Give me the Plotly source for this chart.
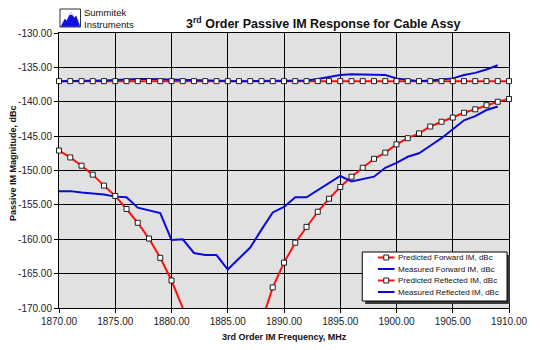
import plotly.graph_objects as go

# ---------------- data ----------------
freq_pred = [1870, 1871, 1872, 1873, 1874, 1875, 1876, 1877, 1878, 1879,
             1880, 1881, 1882, 1883, 1884, 1885, 1886, 1887, 1888, 1889,
             1890, 1891, 1892, 1893, 1894, 1895, 1896, 1897, 1898, 1899,
             1900, 1901, 1902, 1903, 1904, 1905, 1906, 1907, 1908, 1909, 1910]

pred_forward = [-137.0, -137.0, -137.0, -137.0, -137.0, -137.0, -137.0, -137.0, -137.0, -137.0,
                -137.0, -137.0, -137.0, -137.0, -137.0, -137.0, -137.0, -137.0, -137.0, -137.0,
                -137.0, -137.0, -137.0, -137.0, -137.0, -137.0, -137.0, -137.0, -137.0, -137.0,
                -137.0, -137.0, -137.0, -137.0, -137.0, -137.0, -137.0, -137.0, -137.0, -137.0, -137.0]

pred_reflected = [-147.1, -148.1, -149.3, -150.6, -152.2, -153.7, -155.6, -157.6, -159.9, -162.7,
                  -166.0, -170.2, -174.5, -178.5, -182.0, -184.0, -181.5, -177.5, -172.0, -167.0,
                  -163.4, -160.5, -158.2, -156.0, -154.1, -152.4, -150.9, -149.6, -148.3, -147.4,
                  -146.2, -145.3, -144.6, -143.6, -142.9, -142.3, -141.6, -141.1, -140.5, -140.0, -139.6]

freq_meas = [1870, 1871, 1872, 1873, 1874, 1875, 1876, 1877, 1878, 1879,
             1880, 1881, 1882, 1883, 1884, 1885, 1886, 1887, 1888, 1889,
             1890, 1891, 1892, 1893, 1894, 1895, 1896, 1897, 1898, 1899,
             1900, 1901, 1902, 1903, 1904, 1905, 1906, 1907, 1908, 1909]

meas_forward = [-137.0, -137.0, -137.0, -136.95, -136.9, -136.85, -136.75, -136.7, -136.7, -136.75,
                -136.8, -136.8, -136.85, -136.9, -137.0, -137.0, -137.0, -137.0, -137.0, -137.0,
                -137.0, -137.0, -136.9, -136.7, -136.4, -136.1, -136.0, -136.0, -136.0, -136.1,
                -136.6, -136.8, -137.0, -136.9, -136.8, -136.6, -136.1, -135.8, -135.3, -134.7]

meas_reflected = [-153.0, -153.0, -153.2, -153.3, -153.5, -153.8, -153.9, -155.4, -155.8, -156.2,
                  -160.1, -160.0, -162.0, -162.3, -162.3, -164.4, -162.8, -161.2, -158.6, -156.1,
                  -155.3, -153.9, -153.9, -152.9, -151.8, -150.8, -151.6, -151.3, -150.9, -149.6,
                  -148.9, -148.0, -147.5, -146.4, -145.3, -144.0, -142.7, -142.1, -141.2, -140.7]

x_ticks = [1870, 1875, 1880, 1885, 1890, 1895, 1900, 1905, 1910]
x_ticklabels = ["1870.00", "1875.00", "1880.00", "1885.00", "1890.00",
                "1895.00", "1900.00", "1905.00", "1910.00"]
y_ticks = [-170, -165, -160, -155, -150, -145, -140, -135, -130]
y_ticklabels = ["-170.00", "-165.00", "-160.00", "-155.00", "-150.00",
                "-145.00", "-140.00", "-135.00", "-130.00"]

series_names = ["Predicted Forward IM, dBc", "Measured Forward IM, dBc",
                "Predicted Reflected IM, dBc", "Measured Reflected IM, dBc"]

title_text = "3<sup>rd</sup> Order Passive IM Response for Cable Assy"
x_title = "3rd Order IM Frequency, MHz"
y_title = "Passive IM Magnitude, dBc"
logo_lines = ["Summitek", "Instruments"]

# ---------------- style ----------------
RED = "#ff1010"
BLUE = "#0a0ad8"
FONT = "Arial, Liberation Sans, sans-serif"
W, H = 540, 350
L, R, T, B = 59, 21, 33, 42
PW, PH = W - L - R, H - T - B


def px(x):
    return (x - L) / PW


def py(y):
    return (H - B - y) / PH


fig = go.Figure()

# lines
fig.add_trace(go.Scatter(x=freq_pred, y=pred_forward, mode="lines",
                         line=dict(color=RED, width=2), showlegend=False))
fig.add_trace(go.Scatter(x=freq_pred, y=pred_reflected, mode="lines",
                         line=dict(color=RED, width=2), showlegend=False))
fig.add_trace(go.Scatter(x=freq_meas, y=meas_forward, mode="lines",
                         line=dict(color=BLUE, width=2), showlegend=False))
fig.add_trace(go.Scatter(x=freq_meas, y=meas_reflected, mode="lines",
                         line=dict(color=BLUE, width=2), showlegend=False))

# markers (only those inside the visible range)
ymin = y_ticks[0] - 0.5
for ys in (pred_forward, pred_reflected):
    vis = [v if v >= ymin else None for v in ys]
    fig.add_trace(go.Scatter(x=freq_pred, y=vis, mode="markers",
                             marker=dict(symbol="square", size=5, color="white",
                                         line=dict(color="#202020", width=1)),
                             cliponaxis=False, showlegend=False))

axis_common = dict(showgrid=True, gridcolor="#000000", gridwidth=1,
                   showline=True, linecolor="#000000", linewidth=1, mirror=True,
                   ticks="outside", ticklen=4, tickcolor="#000000",
                   tickfont=dict(family=FONT, size=10, color="#222222"),
                   zeroline=False, layer="below traces")

fig.update_layout(
    width=W, height=H,
    margin=dict(l=L, r=R, t=T, b=B, pad=0),
    paper_bgcolor="white", plot_bgcolor="#e1e1e1",
    showlegend=False,
    xaxis=dict(range=[1870, 1910], tickvals=x_ticks, ticktext=x_ticklabels, **axis_common),
    yaxis=dict(range=[-170, -130], tickvals=y_ticks, ticktext=y_ticklabels, **axis_common),
)

ann = []
ann.append(dict(text="<b>" + title_text + "</b>", x=px(329), y=py(23), xref="paper", yref="paper",
                showarrow=False, xanchor="center", yanchor="middle",
                font=dict(family=FONT, size=12.5, color="#111111")))
ann.append(dict(text="<b>" + x_title + "</b>", x=px(289), y=py(337), xref="paper", yref="paper",
                showarrow=False, xanchor="center", yanchor="middle",
                font=dict(family=FONT, size=9, color="#111111")))
ann.append(dict(text="<b>" + y_title + "</b>", x=px(12), y=py(163), xref="paper", yref="paper",
                showarrow=False, xanchor="center", yanchor="middle", textangle=-90,
                font=dict(family=FONT, size=9, color="#111111")))
# logo text (one two-line annotation)
ann.append(dict(text="<br>".join(logo_lines), x=px(82), y=py(18), xref="paper", yref="paper",
                showarrow=False, xanchor="left", yanchor="middle", align="left",
                font=dict(family=FONT, size=9.5, color="#111111")))

shapes = []
# logo icon
shapes.append(dict(type="rect", xref="paper", yref="paper", x0=px(60), x1=px(81), y0=py(27), y1=py(9),
                   fillcolor="white", line=dict(color="#303030", width=1)))
mountain = [(61, 26.5), (65, 19), (67, 21), (71, 12), (74.5, 18), (76.5, 16), (80.5, 26.5)]
path = "M " + " L ".join(f"{px(a):.5f},{py(b):.5f}" for a, b in mountain) + " Z"
shapes.append(dict(type="path", xref="paper", yref="paper", path=path,
                   fillcolor="#1010e0", line=dict(color="#1010e0", width=0.5)))
snow = [(69.5, 15), (71, 12), (72.8, 15.2), (71.2, 14.2)]
path2 = "M " + " L ".join(f"{px(a):.5f},{py(b):.5f}" for a, b in snow) + " Z"
shapes.append(dict(type="path", xref="paper", yref="paper", path=path2,
                   fillcolor="white", line=dict(color="white", width=0.5)))

# legend box
lx0, lx1, ly0, ly1 = 369, 517, 252, 301
shapes.append(dict(type="rect", xref="paper", yref="paper", x0=px(lx0 + 3), x1=px(lx1 + 3),
                   y0=py(ly1 + 3), y1=py(ly0 + 3), fillcolor="#3a3a3a", line=dict(width=0)))
shapes.append(dict(type="rect", xref="paper", yref="paper", x0=px(lx0), x1=px(lx1),
                   y0=py(ly1), y1=py(ly0), fillcolor="white", line=dict(color="#000000", width=1)))
row_y = [257.5, 269, 280.5, 292]
row_color = [RED, BLUE, RED, BLUE]
row_marker = [True, False, True, False]
for name, yy, col, mk in zip(series_names, row_y, row_color, row_marker):
    shapes.append(dict(type="line", xref="paper", yref="paper", x0=px(385), x1=px(402),
                       y0=py(yy), y1=py(yy), line=dict(color=col, width=2)))
    if mk:
        shapes.append(dict(type="rect", xref="paper", yref="paper", x0=px(391), x1=px(396),
                           y0=py(yy + 2.5), y1=py(yy - 2.5), fillcolor="white",
                           line=dict(color="#202020", width=1)))
    ann.append(dict(text=name, x=px(403.5), y=py(yy), xref="paper", yref="paper",
                    showarrow=False, xanchor="left", yanchor="middle",
                    font=dict(family=FONT, size=8, color="#111111")))

fig.update_layout(annotations=ann, shapes=shapes)
fig.write_html("out.html")
